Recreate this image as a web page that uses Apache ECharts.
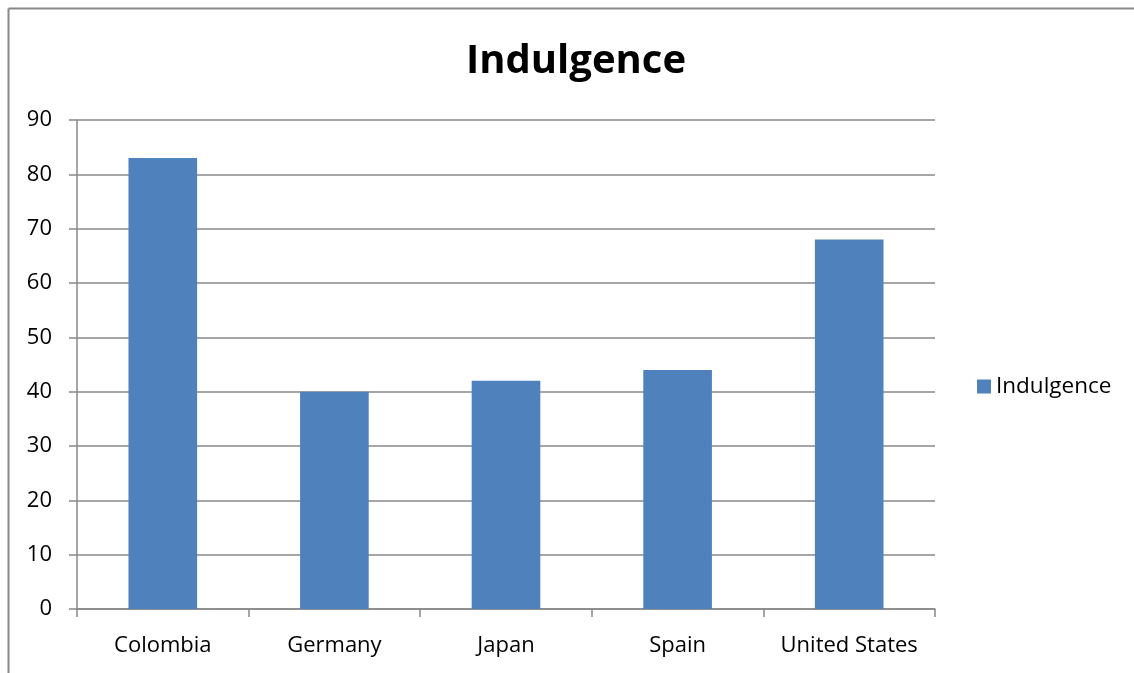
<!DOCTYPE html>
<html><head><meta charset="utf-8">
<script src="https://cdn.jsdelivr.net/npm/echarts@6/dist/echarts.min.js"></script>
<style>html,body{margin:0;padding:0;background:#fff}#c{width:1134px;height:673px}</style>
</head><body><div id="c"></div>
<script>
const categories = ['Colombia', 'Germany', 'Japan', 'Spain', 'United States'];
const indulgence = [83, 40, 42, 44, 68];
const seriesName = 'Indulgence';
const chartTitle = 'Indulgence';

const chart = echarts.init(document.getElementById('c'));
const font = '"Open Sans", "Liberation Sans", sans-serif';
chart.setOption({
  animation: false,
  title: {text: chartTitle, left: 571, top: 37, textAlign: 'center',
    textStyle: {fontFamily: font, fontSize: 40, fontWeight: 'bold', color: '#000'}},
  legend: {left: 972, top: 370, orient: 'vertical', itemWidth: 14, itemHeight: 14, itemGap: 6,
    icon: 'rect', textStyle: {fontFamily: font, fontSize: 22.5, color: '#000'}, data: [seriesName]},
  graphic: [
    {type: 'line', shape: {x1: 8.5, y1: 8.5, x2: 1134, y2: 8.5}, style: {stroke: '#888', lineWidth: 2}},
    {type: 'line', shape: {x1: 8.5, y1: 8.5, x2: 8.5, y2: 673}, style: {stroke: '#888', lineWidth: 2}}
  ],
  grid: {left: 77, right: 199, top: 120, bottom: 64, containLabel: false},
  xAxis: {type: 'category', data: categories,
    axisLine: {lineStyle: {color: '#888', width: 1.5}},
    axisTick: {show: true, interval: 0, length: 8, lineStyle: {color: '#888', width: 1.5}},
    axisLabel: {interval: 0, hideOverlap: false, fontFamily: font, fontSize: 22, color: '#000', margin: 26}},
  yAxis: {type: 'value', min: 0, max: 90, interval: 10,
    axisLine: {show: true, lineStyle: {color: '#888', width: 1.5}},
    axisTick: {show: true, length: 8, lineStyle: {color: '#888', width: 1.5}},
    splitLine: {lineStyle: {color: '#888', width: 1.5}},
    axisLabel: {fontFamily: font, fontSize: 22, color: '#000', margin: 25}},
  series: [{name: seriesName, type: 'bar', data: indulgence, barWidth: '40%',
    itemStyle: {color: '#4F81BD'}}]
});
</script></body></html>
